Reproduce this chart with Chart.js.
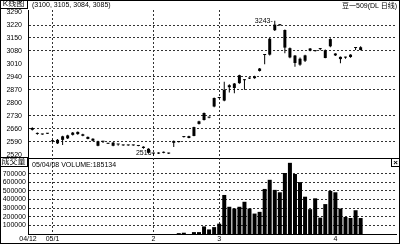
<!DOCTYPE html>
<html>
<head>
<meta charset="utf-8">
<script src="https://cdn.jsdelivr.net/npm/chart.js@4.4.1/dist/chart.umd.min.js"></script>
<style>
  html, body { margin: 0; padding: 0; background: #fff; }
  #wrap { position: relative; width: 400px; height: 244px; overflow: hidden; background: #fff;
          font-family: 'Liberation Sans', 'Noto Sans CJK SC', sans-serif; color: #000; }
  #wrap canvas { position: absolute; left: 0; display: block; }
  #price { top: 0; }
  #vol { top: 158px; }
  .frame { position: absolute; left: 0; top: 0; width: 398px; height: 242px; border: 1px solid #000; pointer-events: none; }
  .lbl { position: absolute; font-size: 7px; line-height: 8px; white-space: nowrap; }
  .box { position: absolute; left: 0; width: 27px; height: 8px; border-right: 1px solid #000; border-bottom: 1px solid #000;
         font-size: 8px; line-height: 8px; text-align: center; white-space: nowrap;
         font-family: 'Liberation Sans', 'Noto Sans CJK SC', sans-serif; background: #fff; }
  .xbox { position: absolute; left: 391px; top: 158px; width: 7px; height: 7px; border: 1px solid #000;
          font-size: 8px; line-height: 7px; text-align: center; font-weight: bold; background: #fff; }
</style>
</head>
<body>
<div id="wrap">
  <canvas id="price" width="400" height="159"></canvas>
  <canvas id="vol" width="400" height="86"></canvas>
  <div class="box" style="top:0">K线图</div>
  <div class="lbl" id="ohlc" style="left:32px; top:1px"></div>
  <div class="lbl" style="right:3px; top:2px">豆一509(DL 日线)</div>
  <div class="box" style="top:157px; border-top:1px solid #000">成交量</div>
  <div class="lbl" id="volhead" style="left:32px; top:161px"></div>
  <div class="xbox">×</div>
  <div class="frame"></div>
</div>
<script>
// trading days, 2004/12/28 .. 2005/04/08
var dates = [
    '04/12/28', '04/12/29', '04/12/30', '04/12/31',
    '05/01/04', '05/01/05', '05/01/06', '05/01/07', '05/01/10', '05/01/11', '05/01/12', '05/01/13', '05/01/14',
    '05/01/17', '05/01/18', '05/01/19', '05/01/20', '05/01/21', '05/01/24', '05/01/25', '05/01/26', '05/01/27',
    '05/01/28', '05/01/31',
    '05/02/01', '05/02/02', '05/02/03', '05/02/04', '05/02/16', '05/02/17', '05/02/18', '05/02/21', '05/02/22',
    '05/02/23', '05/02/24', '05/02/25', '05/02/28',
    '05/03/01', '05/03/02', '05/03/03', '05/03/04', '05/03/07', '05/03/08', '05/03/09', '05/03/10', '05/03/11',
    '05/03/14', '05/03/15', '05/03/16', '05/03/17', '05/03/18', '05/03/21', '05/03/22', '05/03/23', '05/03/24',
    '05/03/25', '05/03/28', '05/03/29', '05/03/30', '05/03/31',
    '05/04/01', '05/04/04', '05/04/05', '05/04/06', '05/04/07', '05/04/08'
];

var open = [
    2664, 2636, 2631, 2633,
    2598, 2600, 2600, 2608, 2627, 2643, 2630, 2616, 2606, 2592, 2591, 2581, 2585, 2576, 2572, 2570, 2571, 2569, 2563, 2552,
    2528, 2526, 2530, 2528, 2584, 2588, 2615, 2610, 2621, 2686, 2707, 2720, 2780,
    2826, 2812, 2884, 2880, 2906, 2924, 2931, 2933, 2972, 3058, 3060, 3192, 3221, 3193, 3095, 3055, 3038, 3027, 3082,
    3081, 3090, 3084, 3105,
    3066, 3048, 3044, 3047, 3096, 3100
];
var high = [
    2668, 2640, 2633, 2637,
    2600, 2604, 2622, 2627, 2642, 2645, 2633, 2618, 2608, 2595, 2592, 2583, 2588, 2577, 2574, 2574, 2573, 2571, 2566, 2555,
    2530, 2533, 2537, 2530, 2596, 2592, 2619, 2622, 2671, 2703, 2748, 2725, 2829,
    2831, 2913, 2900, 2907, 2952, 2927, 2936, 2946, 2988, 3062, 3150, 3243, 3224, 3196, 3098, 3058, 3045, 3060, 3096,
    3083, 3096, 3088, 3148,
    3068, 3050, 3049, 3062, 3098, 3105
];
var low = [
    2650, 2628, 2627, 2631,
    2588, 2578, 2572, 2604, 2624, 2628, 2619, 2603, 2593, 2566, 2583, 2577, 2565, 2568, 2568, 2568, 2568, 2565, 2552, 2528,
    2516, 2524, 2528, 2524, 2562, 2586, 2613, 2608, 2619, 2683, 2704, 2716, 2776,
    2823, 2808, 2855, 2851, 2903, 2870, 2928, 2930, 2969, 3008, 3055, 3188, 3216, 3067, 3040, 2995, 3000, 3020, 3078,
    3077, 3084, 3040, 3100,
    3053, 3013, 3038, 3043, 3085, 3084
];
var close = [
    2654, 2632, 2629, 2635,
    2592, 2581, 2619, 2624, 2639, 2631, 2622, 2605, 2595, 2568, 2590, 2579, 2568, 2575, 2570, 2572, 2570, 2567, 2556, 2530,
    2526, 2531, 2535, 2526, 2594, 2590, 2617, 2620, 2669, 2700, 2745, 2722, 2826,
    2828, 2870, 2895, 2904, 2949, 2922, 2933, 2943, 2985, 3060, 3146, 3222, 3219, 3098, 3045, 3015, 3006, 3056, 3093,
    3079, 3092, 3042, 3144,
    3056, 3036, 3046, 3060, 3097, 3085
];
var volume = [
    0, 0, 0, 0,
    0, 0, 0, 0, 0, 0, 0, 0, 0, 0, 0, 0, 0, 0, 0, 0, 0, 0, 0, 0,
    0, 0, 0, 0, 0, 10000, 15000, 0, 22000, 22000, 88000, 53000, 80000,
    120000, 453000, 316000, 296000, 316000, 374000, 296000, 237000, 257000, 523000, 629000, 512000, 484000, 708000,
    826000, 696000, 602000, 433000, 288000, 414000, 190000, 347000, 500000,
    484000, 296000, 198000, 186000, 276000, 185134
];

var priceTicks = [2520, 2590, 2660, 2730, 2800, 2870, 2940, 3010, 3080, 3150, 3220, 3290];
var priceNoGrid = [2520, 2800, 3010, 3290];
var volTicks = [100000, 200000, 300000, 400000, 500000, 600000, 700000];
var monthLabels = ['04/12', '05/1', '2', '3', '4'];
var monthNoGrid = ['04/12', '4'];

var xMin = -0.85, xMax = 72;
var GRID = '#333', NONE = 'rgba(0,0,0,0)';

// first trading day of every month, plus the left edge for the opening label
var tickIdx = [xMin];
for (var i = 1; i < dates.length; i++) {
    if (dates[i].slice(3, 5) !== dates[i - 1].slice(3, 5)) tickIdx.push(i);
}

Chart.defaults.font.family = "'Liberation Sans', 'Noto Sans CJK SC', sans-serif";
Chart.defaults.font.size = 7;
Chart.defaults.color = '#000';

function xAxis(showLabels) {
    return {
        type: 'linear', min: xMin, max: xMax, offset: false,
        grid: {
            offset: false, drawTicks: false, lineWidth: 1,
            color: function (c) {
                var k = tickIdx.indexOf(c.tick ? c.tick.value : null);
                return k < 0 || monthNoGrid.indexOf(monthLabels[k]) >= 0 ? NONE : GRID;
            }
        },
        border: { display: true, color: '#000', width: 1, dash: [2, 2] },
        ticks: {
            display: showLabels, autoSkip: false, maxRotation: 0, minRotation: 0, padding: 1,
            callback: function (v, k) { return monthLabels[k]; }
        },
        afterBuildTicks: function (s) {
            s.ticks = tickIdx.map(function (v) { return { value: v }; });
        },
        afterFit: function (s) {
            s.height = showLabels ? 10 : 1;
            s.paddingLeft = 0;
            s.paddingRight = 0;
        }
    };
}

var bodies = open.map(function (o, k) { return { x: k, y: [Math.min(o, close[k]), Math.max(o, close[k])] }; });
var wicks = low.map(function (l, k) { return { x: k, y: [l, high[k]] }; });
var last = dates.length - 1;

document.getElementById('ohlc').textContent =
    '(' + open[last] + ', ' + high[last] + ', ' + low[last] + ', ' + close[last] + ')';
document.getElementById('volhead').textContent = dates[last] + ' VOLUME:' + volume[last];

var extremes = {
    id: 'extremes',
    afterDatasetsDraw: function (chart) {
        var xs = chart.scales.x, ys = chart.scales.y, ctx = chart.ctx;
        var hi = high.indexOf(Math.max.apply(null, high));
        var lo = low.indexOf(Math.min.apply(null, low));
        ctx.save();
        ctx.font = "7px 'Liberation Sans'";
        ctx.fillStyle = '#000';
        ctx.textAlign = 'right';
        ctx.textBaseline = 'middle';
        ctx.fillText(high[hi] + '-', xs.getPixelForValue(hi) - 2, ys.getPixelForValue(high[hi]));
        ctx.fillText(String(low[lo]), xs.getPixelForValue(lo) - 2, ys.getPixelForValue(low[lo]) - 2);
        ctx.restore();
    }
};

new Chart(document.getElementById('price'), {
    type: 'bar',
    data: {
        datasets: [
            { data: wicks, backgroundColor: '#000', barThickness: 1, grouped: false, inflateAmount: 0, order: 2 },
            { data: bodies, backgroundColor: '#000', barThickness: 3, grouped: false, inflateAmount: 0, minBarLength: 1, order: 1 }
        ]
    },
    options: {
        responsive: false, animation: false, events: [],
        layout: { padding: { top: 10, right: 4, left: 0, bottom: 0 } },
        plugins: { legend: { display: false }, tooltip: { enabled: false } },
        scales: {
            x: xAxis(false),
            y: {
                min: 2502, max: 3301,
                grid: {
                    drawTicks: false,
                    color: function (c) { return c.tick && priceNoGrid.indexOf(c.tick.value) >= 0 ? NONE : GRID; }
                },
                border: { color: '#000', dash: [2, 2] },
                ticks: { padding: 6, callback: function (v) { return String(v); } },
                afterBuildTicks: function (s) {
                    s.ticks = priceTicks.map(function (v) { return { value: v }; });
                },
                afterFit: function (s) { s.width = 28; s.paddingTop = 0; s.paddingBottom = 0; }
            }
        }
    },
    plugins: [extremes]
});

new Chart(document.getElementById('vol'), {
    type: 'bar',
    data: {
        datasets: [{
            data: volume.map(function (v, k) { return { x: k, y: v }; }),
            backgroundColor: '#000', barThickness: 4, grouped: false, inflateAmount: 0
        }]
    },
    options: {
        responsive: false, animation: false, events: [],
        layout: { padding: { top: 0, right: 4, left: 0, bottom: 0 } },
        plugins: { legend: { display: false }, tooltip: { enabled: false } },
        scales: {
            x: xAxis(true),
            y: {
                min: 0, max: 882000,
                grid: { drawTicks: false, color: GRID },
                border: { color: '#000', dash: [2, 2] },
                ticks: { padding: 2, callback: function (v) { return String(v); } },
                afterBuildTicks: function (s) {
                    s.ticks = volTicks.map(function (v) { return { value: v }; });
                },
                afterFit: function (s) { s.width = 28; s.paddingTop = 0; s.paddingBottom = 0; }
            }
        }
    }
});
</script>
</body>
</html>
